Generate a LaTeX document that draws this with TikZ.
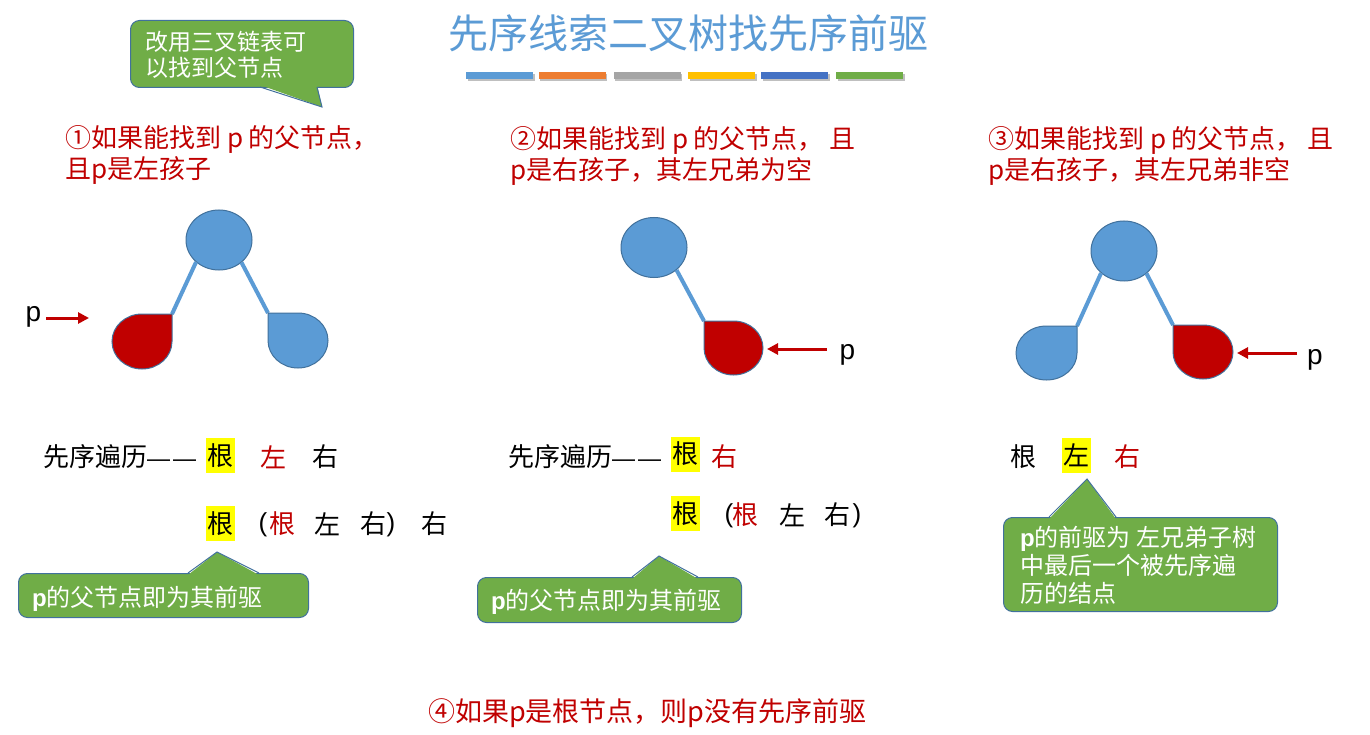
\documentclass[tikz,border=0pt]{standalone}
\usepackage{fontspec}
\setmainfont{Noto Sans CJK SC}
\newfontfamily\latinfont{Liberation Sans}
\usetikzlibrary{shapes.geometric,arrows.meta}
\definecolor{nblue}{HTML}{5B9BD5}
\definecolor{nborder}{HTML}{41719C}
\definecolor{dred}{HTML}{C00000}
\definecolor{cgreen}{HTML}{70AD47}
\definecolor{borange}{HTML}{ED7D31}
\definecolor{bgray}{HTML}{A5A5A5}
\definecolor{bgold}{HTML}{FFC000}
\definecolor{bdblue}{HTML}{4472C4}
\definecolor{hlyellow}{HTML}{FFFF00}
\newcommand{\bp}{{\latinfont\bfseries p}}
\newcommand{\ddash}{{\latinfont\fontsize{23}{30}\selectfont —\kern3pt—}}
\begin{document}
\begin{tikzpicture}[x=1pt,y=1pt,
  rootnode/.style={ellipse, fill=nblue, draw=nborder, line width=1pt, minimum width=66pt, minimum height=60pt, inner sep=0},
  treeedge/.style={nblue, line width=4pt},
  leafblue/.style={fill=nblue, draw=nborder, line width=1pt},
  leafred/.style={fill=dred, draw=nborder, line width=1pt},
  parrow/.style={dred, line width=3pt, -{Triangle[length=11pt,width=11pt]}},
  plabel/.style={font=\latinfont\fontsize{28}{30}\selectfont, inner sep=0},
  head/.style={text=dred, font=\fontsize{26}{30}\selectfont, inner sep=0, anchor=west},
  rowtxt/.style={font=\fontsize{26}{30}\selectfont, inner sep=0},
  paren/.style={font=\latinfont\fontsize{26}{30}\selectfont, inner sep=0},
  hl/.style={rowtxt, fill=hlyellow, minimum width=29pt, minimum height=35pt},
  cbox/.style={fill=cgreen, draw=nborder, line width=1pt, rounded corners=9pt, anchor=north west, inner sep=0},
  ctail/.style={draw=nborder, line width=1pt},
  ctext/.style={text=white, font=\fontsize{24}{28}\selectfont, inner sep=0, anchor=west, align=left},
  bar/.style={minimum width=67pt, minimum height=7pt, inner sep=0},
]
\useasboundingbox (0,0) rectangle (1370,-735);
\fill[white] (0,0) rectangle (1370,-735);

% title and colour bars
\node[text=nblue, font=\fontsize{40}{44}\selectfont, inner sep=0] (title) at (688,-33) {先序线索二叉树找先序前驱};
\foreach \cx/\col [count=\i] in {499.5/nblue, 572/borange, 647/bgray, 721.5/bgold, 794.5/bdblue, 869.5/cgreen}{
  \node[bar, fill=black!25] at (\cx+1.5,-77.5) {};
  \node[bar, fill=\col] (bar\i) at (\cx,-76) {};
}

% top callout
\node[cbox, minimum width=223pt, minimum height=67pt] (cb1) at (130,-20) {};
\fill[cgreen] (260,-85) -- (322,-107) -- (317,-85) -- cycle;
\draw[ctail] (260,-87) -- (322,-107) -- (317,-87);
\node[ctext, font=\fontsize{23}{26}\selectfont] (ct1) at (145,-55) {改用三叉链表可\\以找到父节点};

% headings
\node[head] (h1a) at (65,-139) {①如果能找到 p 的父节点，};
\node[head] (h1b) at (65,-170) {且p是左孩子};
\node[head] (h2a) at (510,-140) {②如果能找到 p 的父节点， 且};
\node[head] (h2b) at (510,-171) {p是右孩子，其左兄弟为空};
\node[head] (h3a) at (988,-140) {③如果能找到 p 的父节点， 且};
\node[head] (h3b) at (988,-171) {p是右孩子，其左兄弟非空};

% tree 1
\node[rootnode] (r1) at (219,-240) {};
\coordinate (k1l) at (172,-314);
\coordinate (k1r) at (268,-313);
\draw[treeedge] (r1.224) -- (k1l);
\draw[treeedge] (r1.-45) -- (k1r);
\draw[leafred] (172,-341.5) -- (k1l) -- (142,-314) arc[start angle=90,end angle=360,x radius=30pt,y radius=27.5pt] -- cycle;
\draw[leafblue] (268,-340.5) -- (k1r) -- (298,-313) arc[start angle=90,end angle=-180,x radius=30pt,y radius=27.5pt] -- cycle;
\node[plabel] (p1) at (33.5,-316.5) {p};
\coordinate (t1) at (89,-318);
\draw[parrow, shorten <=5pt] (p1.east |- t1) -- (t1);

% tree 2
\node[rootnode] (r2) at (654,-247.5) {};
\coordinate (k2r) at (704,-321);
\draw[treeedge] (r2.-45) -- (k2r);
\draw[leafred] (704,-348) -- (k2r) -- (733.5,-321) arc[start angle=90,end angle=-180,x radius=29.5pt,y radius=27pt] -- cycle;
\node[plabel] (p2) at (847.5,-355) {p};
\coordinate (t2) at (767,-349);
\draw[parrow, shorten <=13pt] (p2.west |- t2) -- (t2);

% tree 3
\node[rootnode] (r3) at (1124,-251) {};
\coordinate (k3l) at (1077,-326);
\coordinate (k3r) at (1173,-325);
\draw[treeedge] (r3.224) -- (k3l);
\draw[treeedge] (r3.-45) -- (k3r);
\draw[leafblue] (1077,-353) -- (k3l) -- (1046.5,-326) arc[start angle=90,end angle=360,x radius=30.5pt,y radius=27pt] -- cycle;
\draw[leafred] (1173,-352) -- (k3r) -- (1203,-325) arc[start angle=90,end angle=-180,x radius=30pt,y radius=27pt] -- cycle;
\node[plabel] (p3) at (1315,-360) {p};
\coordinate (t3) at (1237,-353);
\draw[parrow, shorten <=10pt] (p3.west |- t3) -- (t3);

% rows, tree 1
\node[rowtxt, anchor=west] (s1) at (43,-457) {先序遍历\ddash};
\node[hl] (g1) at (220.5,-455.5) {根};
\node[rowtxt, text=dred] (l1) at (273.5,-457) {左};
\node[rowtxt] (y1) at (325,-457) {右};
\node[hl] (g1b) at (220.5,-523.5) {根};
\node[paren] (o1) at (263,-525) {(};
\node[rowtxt, text=dred] (g1c) at (282,-524) {根};
\node[rowtxt] (l1b) at (327,-524) {左};
\node[rowtxt] (y1b) at (373,-524) {右};
\node[paren] (c1) at (391,-525) {)};
\node[rowtxt] (y1c) at (434,-524) {右};

% callout tree 1
\node[cbox, minimum width=290pt, minimum height=44pt] (cb2) at (18,-573) {};
\fill[cgreen] (188,-575) -- (217,-552) -- (259,-575) -- cycle;
\draw[ctail] (188,-573) -- (217,-552) -- (259,-573);
\node[ctext] (ct2) at (32,-599) {\bp 的父节点即为其前驱};

% rows, tree 2
\node[rowtxt, anchor=west] (s2) at (508,-457) {先序遍历\ddash};
\node[hl] (g2) at (685.5,-454) {根};
\node[rowtxt, text=dred] (y2) at (724,-457) {右};
\node[hl] (g2b) at (685.5,-513.5) {根};
\node[paren] (o2) at (729,-516) {(};
\node[rowtxt, text=dred] (g2c) at (745.5,-515) {根};
\node[rowtxt] (l2b) at (792,-515) {左};
\node[rowtxt] (y2b) at (837,-515) {右};
\node[paren] (c2) at (857,-516) {)};

% callout tree 2
\node[cbox, minimum width=264pt, minimum height=45pt] (cb3) at (477,-577) {};
\fill[cgreen] (632,-579) -- (659,-556) -- (698,-579) -- cycle;
\draw[ctail] (632,-577) -- (659,-556) -- (698,-577);
\node[ctext] (ct3) at (491,-602) {\bp 的父节点即为其前驱};

% row, tree 3
\node[rowtxt] (g3) at (1023,-457) {根};
\node[hl] (l3) at (1076,-455.5) {左};
\node[rowtxt, text=dred] (y3) at (1127.5,-457) {右};

% callout tree 3
\node[cbox, minimum width=274pt, minimum height=94pt] (cb4) at (1003,-517) {};
\fill[cgreen] (1049,-519) -- (1087,-479) -- (1116,-519) -- cycle;
\draw[ctail] (1049,-517) -- (1087,-479) -- (1116,-517);
\node[ctext] (ct4) at (1020,-565) {\bp 的前驱为 左兄弟子树\\中最后一个被先序遍\\历的结点};

% bottom
\node[head, font=\fontsize{27}{30}\selectfont] (h4) at (428,-713) {④如果p是根节点，则p没有先序前驱};
\end{tikzpicture}
\end{document}
